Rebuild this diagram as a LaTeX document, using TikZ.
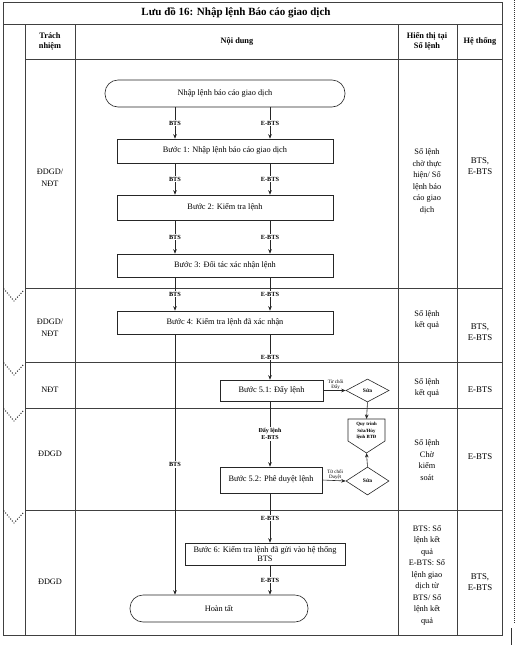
\documentclass[tikz,border=0pt]{standalone}
\usepackage{fontspec}
\setmainfont{Liberation Serif}
\usetikzlibrary{arrows.meta,shapes.geometric}
\begin{document}
\begin{tikzpicture}[x=1pt,y=-1pt,
  tbl/.style={draw=black!75, line width=0.6pt},
  chev/.style={draw=black!85, dash pattern=on 0pt off 2.6pt, line cap=round, line width=1.4pt},
  flow/.style={draw=black!85, line width=0.6pt},
  arr/.style={flow, -{Stealth[length=4.5pt,width=3.6pt]}},
  boxn/.style={flow, rectangle, inner sep=1pt, align=center, font=\fontsize{8.3}{9.5}\selectfont},
  termn/.style={flow, rectangle, rounded corners=13pt, inner sep=1pt, font=\fontsize{8.3}{9.5}\selectfont},
  dia/.style={flow, diamond, inner sep=0pt, font=\bfseries\fontsize{5.5}{6}\selectfont},
  lbl/.style={fill=white, inner sep=1pt, font=\bfseries\fontsize{6.3}{7}\selectfont, align=center},
  tiny/.style={inner sep=0.5pt, font=\fontsize{5}{5.5}\selectfont, align=center},
  colt/.style={align=center, font=\fontsize{8.3}{11.5}\selectfont},
  sysn/.style={align=center, font=\fontsize{8.8}{10.5}\selectfont},
  hdr/.style={align=center, font=\bfseries\fontsize{8.3}{10}\selectfont}
]
\useasboundingbox (0,0) rectangle (524,646);

% table frame
\draw[tbl] (3,2) rectangle (502,635);
\draw[tbl] (3,24) -- (502,24);
\draw[tbl] (25,24) -- (25,635);
\foreach \x in {75,398,457} \draw[tbl] (\x,24) -- (\x,635);
\foreach \y in {59,288,362,408,510} \draw[tbl] (25,\y) -- (502,\y);
\foreach \y in {289,363,409,511} \draw[chev] (4,\y) -- (14,\y+12) -- (24,\y+1);

% page edge
\draw[black!80, dash pattern=on 1pt off 1pt, line width=1pt] (514,0) -- (514,624);
\draw[black!80, line width=0.7pt] (511,628) -- (511,645);

% title and header
\node[font=\bfseries\fontsize{11}{12}\selectfont] (title) at (236,13) {Lưu đồ 16: Nhập lệnh Báo cáo giao dịch};
\node[hdr] (h1) at (50,41) {Trách\\nhiệm};
\node[hdr] (h2) at (237,41) {Nội dung};
\node[hdr] (h3) at (427,41) {Hiển thị tại\\Sổ lệnh};
\node[hdr] (h4) at (480,41) {Hệ thống};

% responsibility column
\node[colt] (r1) at (50,178) {ĐDGD/\\NĐT};
\node[colt] (r2) at (50,328) {ĐDGD/\\NĐT};
\node[colt] (r3) at (50,390) {NĐT};
\node[colt] (r4) at (50,454) {ĐDGD};
\node[colt] (r5) at (50,582) {ĐDGD};

% display column
\node[colt] (s1) at (427,181) {Sổ lệnh\\chờ thực\\hiện/ Sổ\\lệnh báo\\cáo giao\\dịch};
\node[colt] (s2) at (427,320) {Sổ lệnh\\kết quả};
\node[colt] (s3) at (427,388) {Sổ lệnh\\kết quả};
\node[colt] (s4) at (427,460) {Sổ lệnh\\Chờ\\kiểm\\soát};
\node[colt] (s5) at (427,575) {BTS: Sổ\\lệnh kết\\quả\\E-BTS: Sổ\\lệnh giao\\dịch từ\\BTS/ Sổ\\lệnh kết\\quả};

% system column
\node[sysn] (y1) at (480,166) {BTS,\\E-BTS};
\node[sysn] (y2) at (480,332) {BTS,\\E-BTS};
\node[sysn] (y3) at (480,390) {E-BTS};
\node[sysn] (y4) at (480,457) {E-BTS};
\node[sysn] (y5) at (480,582) {BTS,\\E-BTS};

% flowchart
\coordinate (xb) at (175,0);
\coordinate (xe) at (270,0);
\node[termn, minimum width=240pt, minimum height=27pt] (t0) at (225,93.5) {Nhập lệnh báo cáo giao dịch};
\node[boxn, minimum width=216pt, minimum height=24pt] (b1) at (225,151) {Bước 1: Nhập lệnh báo cáo giao dịch};
\node[boxn, minimum width=216pt, minimum height=25pt] (b2) at (225,207.5) {Bước 2: Kiểm tra lệnh};
\node[boxn, minimum width=216pt, minimum height=23pt] (b3) at (225,265.5) {Bước 3: Đối tác xác nhận lệnh};
\node[boxn, minimum width=216pt, minimum height=23pt] (b4) at (225,322.5) {Bước 4: Kiểm tra lệnh đã xác nhận};
\node[boxn, minimum width=103pt, minimum height=21pt] (b51) at (271.5,390.5) {Bước 5.1: Đẩy lệnh};
\node[dia, minimum width=43pt, minimum height=23pt] (d1) at (367.5,390.5) {Sửa};
\node[boxn, minimum width=102pt, minimum height=26pt] (b52) at (271,480) {Bước 5.2: Phê duyệt lệnh};
\node[dia, minimum width=43pt, minimum height=28pt] (d2) at (367.5,481) {Sửa};
\node[boxn, minimum width=160pt, minimum height=22pt, font=\fontsize{8.3}{8.5}\selectfont] (b6) at (265,554) {Bước 6: Kiểm tra lệnh đã gửi vào hệ thống\\BTS};
\node[termn, minimum width=178pt, minimum height=27pt] (t1) at (219,608.5) {Hoàn tất};

% off-page connector
\draw[flow] (348,419) -- (385,419) -- (385,441) -- (366.5,453) -- (348,441) -- cycle;
\node[tiny, font=\bfseries\fontsize{4.8}{6.5}\selectfont] (q) at (366.5,431) {Quy trình\\Sửa/Hủy\\lệnh BTĐ};
\coordinate (qtop) at (366.5,419);
\coordinate (qtip) at (366.5,453);

% connectors
\draw[arr] (t0.south -| xb) -- node[lbl]{BTS} (b1.north -| xb);
\draw[arr] (t0.south -| xe) -- node[lbl]{E-BTS} (b1.north -| xe);
\draw[arr] (b1.south -| xb) -- node[lbl]{BTS} (b2.north -| xb);
\draw[arr] (b1.south -| xe) -- node[lbl]{E-BTS} (b2.north -| xe);
\draw[arr] (b2.south -| xb) -- node[lbl]{BTS} (b3.north -| xb);
\draw[arr] (b2.south -| xe) -- node[lbl]{E-BTS} (b3.north -| xe);
\draw[arr] (b3.south -| xb) -- node[lbl]{BTS} (b4.north -| xb);
\draw[arr] (b3.south -| xe) -- node[lbl]{E-BTS} (b4.north -| xe);
\draw[arr] (b4.south -| xe) -- node[lbl]{E-BTS} (b51.north -| xe);
\draw[arr] (b4.south -| xb) -- node[lbl, pos=0.5]{BTS} (t1.north -| xb);
\draw[arr] (b51.south -| xe) -- node[lbl, font=\bfseries\fontsize{6}{7.5}\selectfont]{Đẩy lệnh\\E-BTS} (b52.north -| xe);
\draw[arr] (b52.south -| xe) -- node[lbl]{E-BTS} (b6.north -| xe);
\draw[arr] (b6.south -| xe) -- node[lbl]{E-BTS} (t1.north -| xe);
\draw[arr] (b51.east) -- node[tiny, above, pos=0.55]{Từ chối\\Đẩy} (d1.west);
\draw[arr] (b52.east) -- node[tiny, above, pos=0.55]{Từ chối\\Duyệt} (d2.west);
\draw[arr] (d1.south) -- (qtop);
\draw[arr] (d2.north) -- (qtip);
\end{tikzpicture}
\end{document}
